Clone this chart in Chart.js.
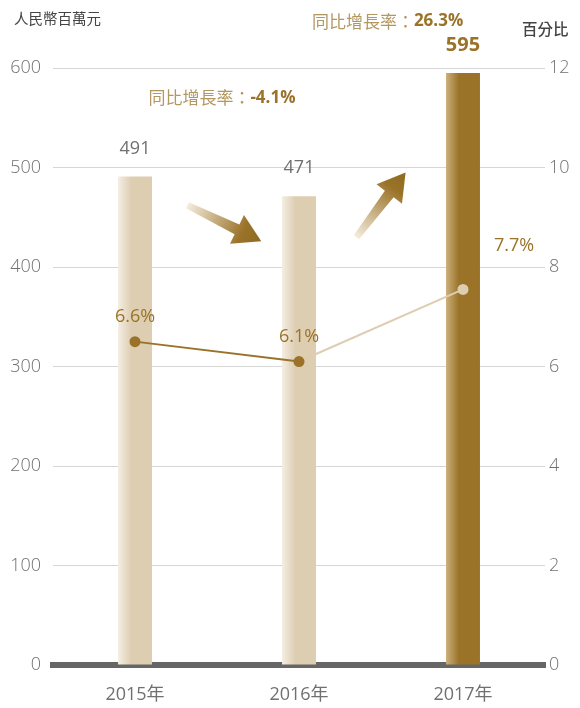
<!DOCTYPE html>
<html>
<head>
<meta charset="utf-8">
<script src="https://cdn.jsdelivr.net/npm/chart.js@4.4.0/dist/chart.umd.min.js"></script>
<style>
  html, body { margin: 0; padding: 0; background: #fff; }
  #wrap { width: 580px; height: 708px; position: relative; }
</style>
</head>
<body>
<div id="wrap"><canvas id="chart"></canvas></div>
<script>
// data
const years = ['2015年', '2016年', '2017年'];
const revenue = [491, 471, 595];
const growthRate = [6.5, 6.1, 7.55];
const growthLabels = ['6.6%', '6.1%', '7.7%'];
const yoyNotes = ['-4.1%', '26.3%'];

const GOLD = '#9a7329';
const TAN = '#ddcdb1';
const NOTE = '#b39760';
const GREY = '#707070';
const FONT = '"Open Sans", "Noto Sans CJK TC", sans-serif';
const CJK = '"Noto Sans CJK TC", "Noto Sans", sans-serif';

function barFill(ctx) {
    const chart = ctx.chart;
    const xs = chart.scales.x;
    const plain = ctx.dataIndex === 2 ? GOLD : TAN;
    if (!xs || ctx.dataIndex === undefined) return plain;
    const cx = xs.getPixelForValue(ctx.dataIndex);
    if (!isFinite(cx)) return plain;
    const g = chart.ctx.createLinearGradient(cx - 17, 0, cx + 17, 0);
    if (ctx.dataIndex === 2) {
        g.addColorStop(0, '#cdb07a');
        g.addColorStop(0.38, GOLD);
        g.addColorStop(1, GOLD);
    } else {
        g.addColorStop(0, '#f5eee3');
        g.addColorStop(0.4, TAN);
        g.addColorStop(1, TAN);
    }
    return g;
}

function drawArrow(c, x0, y0, x1, y1) {
    const ang = Math.atan2(y1 - y0, x1 - x0);
    const len = Math.hypot(x1 - x0, y1 - y0);
    const head = 27, hw = 16, sw = 5.5;
    c.save();
    c.translate(x0, y0);
    c.rotate(ang);
    const g = c.createLinearGradient(0, 0, len, 0);
    g.addColorStop(0, '#f4ecdd');
    g.addColorStop(0.75, GOLD);
    g.addColorStop(1, '#8f6a22');
    c.fillStyle = g;
    c.beginPath();
    c.moveTo(0, -sw * 0.6);
    c.lineTo(len - head, -sw);
    c.lineTo(len - head, -hw);
    c.lineTo(len, 0);
    c.lineTo(len - head, hw);
    c.lineTo(len - head, sw);
    c.lineTo(0, sw * 0.6);
    c.closePath();
    c.fill();
    c.restore();
}

function mixedText(c, x, y, a, b, size) {
    c.font = '400 ' + size + 'px ' + CJK;
    const wa = c.measureText(a).width;
    c.font = '700 ' + size + 'px ' + FONT;
    const wb = c.measureText(b).width;
    let sx = x - (wa + wb) / 2;
    c.textAlign = 'left';
    c.textBaseline = 'middle';
    c.font = '400 ' + size + 'px ' + CJK;
    c.fillStyle = NOTE;
    c.fillText(a, sx, y);
    c.font = '700 ' + size + 'px ' + FONT;
    c.fillStyle = GOLD;
    c.fillText(b, sx + wa, y);
}

const extras = {
    id: 'extras',
    afterDatasetsDraw(chart) {
        const c = chart.ctx;
        const xs = chart.scales.x, ys = chart.scales.y;
        const step = xs.getPixelForValue(1) - xs.getPixelForValue(0);
        c.save();
        // bar values
        const barMeta = chart.getDatasetMeta(0);
        barMeta.data.forEach((el, i) => {
            c.textAlign = 'center';
            c.textBaseline = 'middle';
            if (i === 2) {
                c.font = '700 20px ' + FONT;
                c.fillStyle = GOLD;
                c.fillText(String(revenue[i]), el.x, el.y - 28);
            } else {
                c.font = '400 18px ' + FONT;
                c.fillStyle = GREY;
                c.fillText(String(revenue[i]), el.x, el.y - 28);
            }
        });
        // line labels
        const lineMeta = chart.getDatasetMeta(1);
        lineMeta.data.forEach((el, i) => {
            c.font = '400 18px ' + FONT;
            c.fillStyle = GOLD;
            c.textAlign = 'center';
            c.textBaseline = 'middle';
            if (i === 2) c.fillText(growthLabels[i], el.x + 51, el.y - 44);
            else c.fillText(growthLabels[i], el.x, el.y - 25);
        });
        // arrows
        const x0 = xs.getPixelForValue(0), x1 = xs.getPixelForValue(1);
        drawArrow(c, x0 + 0.32 * step, ys.getPixelForValue(462), x0 + 0.77 * step, ys.getPixelForValue(426));
        drawArrow(c, x1 + 0.35 * step, ys.getPixelForValue(430), x1 + 0.65 * step, ys.getPixelForValue(495));
        // yoy notes
        mixedText(c, x0 + 0.53 * step, ys.getPixelForValue(570), '同比增長率：', yoyNotes[0], 17);
        mixedText(c, x1 + 0.54 * step, ys.getPixelForValue(647), '同比增長率：', yoyNotes[1], 17);
        // axis titles
        c.textBaseline = 'middle';
        c.textAlign = 'left';
        c.fillStyle = '#444';
        c.font = '400 14.5px ' + CJK;
        c.fillText('人民幣百萬元', 14, 18);
        c.font = '500 15.5px ' + CJK;
        c.fillText('百分比', 522, 29);
        c.restore();
    }
};

new Chart(document.getElementById('chart'), {
    data: {
        labels: years,
        datasets: [
            {
                type: 'bar',
                data: revenue,
                yAxisID: 'y',
                backgroundColor: barFill,
                barPercentage: 0.207,
                categoryPercentage: 1,
                order: 2
            },
            {
                type: 'line',
                data: growthRate,
                yAxisID: 'y1',
                borderWidth: 2,
                pointRadius: 5.5,
                pointHoverRadius: 5.5,
                pointBackgroundColor: [GOLD, GOLD, TAN],
                pointBorderWidth: 0,
                segment: {
                    borderColor: s => s.p0DataIndex === 0 ? GOLD : TAN
                },
                borderColor: GOLD,
                order: 1
            }
        ]
    },
    options: {
        responsive: true,
        maintainAspectRatio: false,
        animation: false,
        layout: { padding: { top: 68, left: 0, right: 0, bottom: 0 } },
        plugins: { legend: { display: false }, tooltip: { enabled: false } },
        scales: {
            x: {
                grid: { display: false },
                border: { display: true, color: '#666', width: 6 },
                ticks: { color: GREY, font: { family: FONT, size: 18 }, padding: 11 },
                afterFit(a) { a.height = 43; }
            },
            y: {
                position: 'left',
                min: 0, max: 600,
                ticks: { stepSize: 100, color: GREY, font: { family: FONT, size: 18, weight: 300 }, padding: 12 },
                grid: { color: '#d6d6d6', drawTicks: false, lineWidth: 1 },
                border: { display: false },
                afterFit(a) { a.width = 53; }
            },
            y1: {
                position: 'right',
                min: 0, max: 12,
                ticks: { stepSize: 2, color: GREY, font: { family: FONT, size: 18, weight: 300 }, padding: 4 },
                grid: { display: false, drawTicks: false },
                border: { display: false },
                afterFit(a) { a.width = 35; }
            }
        }
    },
    plugins: [extras]
});
</script>
</body>
</html>
